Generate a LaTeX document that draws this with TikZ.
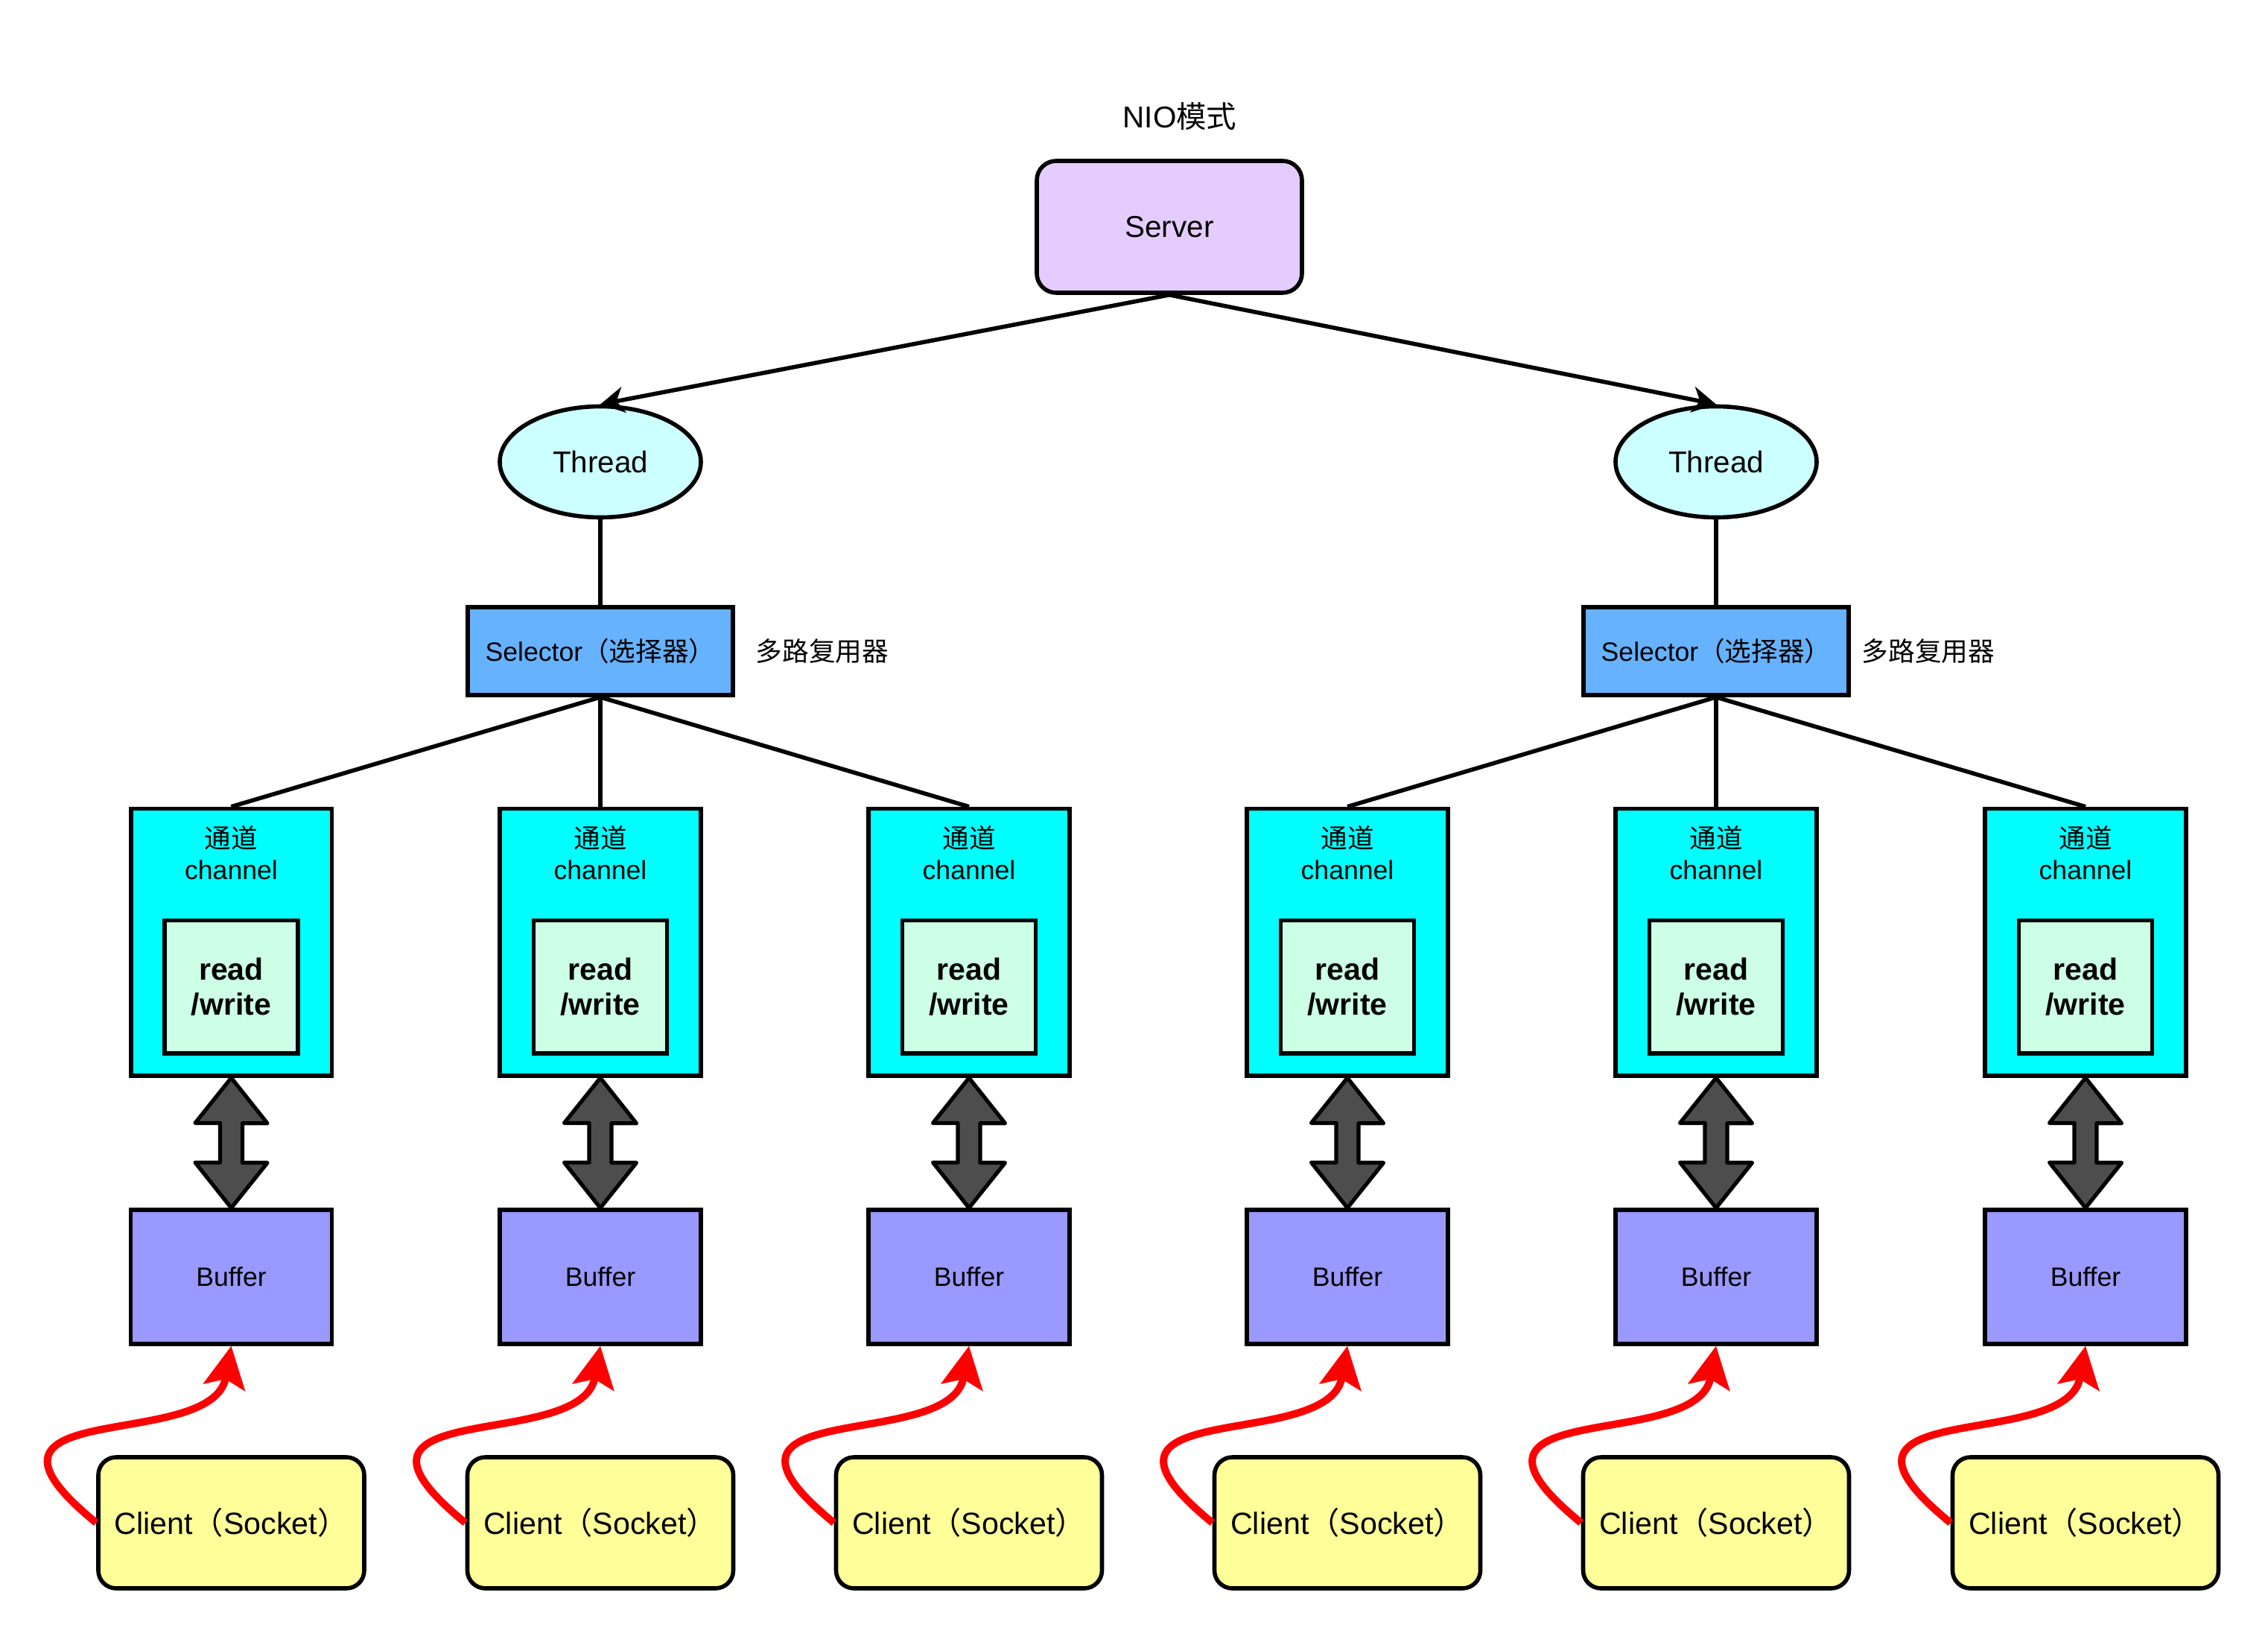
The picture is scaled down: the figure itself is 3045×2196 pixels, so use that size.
\documentclass[tikz,border=0pt]{standalone}
\usepackage{fontspec}
\setmainfont{Liberation Sans}
\newfontfamily\cjk{Noto Sans CJK SC}
\usetikzlibrary{arrows.meta, shapes.geometric}

\definecolor{serverfill}{HTML}{E5CCFF}
\definecolor{threadfill}{HTML}{CCFFFF}
\definecolor{selectorfill}{HTML}{66B2FF}
\definecolor{channelfill}{HTML}{00FFFF}
\definecolor{rwfill}{HTML}{CCFFE6}
\definecolor{bufferfill}{HTML}{9999FF}
\definecolor{clientfill}{HTML}{FFFF99}
\definecolor{rwarrowfill}{HTML}{4D4D4D}

\newcommand{\nioBig}{\fontsize{10.1pt}{12pt}\selectfont}
\newcommand{\nioSmall}{\fontsize{8.9pt}{10.5pt}\selectfont}
\newcommand{\nioClient}{\fontsize{10.3pt}{12pt}\selectfont}
\newcommand{\nioBold}{\fontsize{10.25pt}{11.8pt}\selectfont\bfseries}

\tikzset{
	box/.style={draw=black, line width=1.4pt, inner sep=0pt},
	title/.style={inner sep=0pt, anchor=base, font=\nioBig},
	server/.style={box, rounded corners=6.5pt, fill=serverfill, minimum width=89pt, minimum height=44.25pt, font=\nioBig},
	thread/.style={box, ellipse, fill=threadfill, minimum width=67.5pt, minimum height=37.25pt, font=\nioBig},
	selector/.style={box, fill=selectorfill, minimum width=89pt, minimum height=29.5pt, font=\nioSmall},
	note/.style={inner sep=0pt, anchor=west, font=\nioSmall},
	channel/.style={box, fill=channelfill, minimum width=67.4pt, minimum height=89.6pt},
	chlabel/.style={inner sep=0pt, anchor=north, align=center, font=\nioSmall},
	rw/.style={box, fill=rwfill, minimum width=44.75pt, minimum height=44.6pt, align=center, font=\nioBold},
	buffer/.style={box, fill=bufferfill, minimum width=67.5pt, minimum height=44.9pt, font=\nioSmall},
	client/.style={box, rounded corners=6pt, fill=clientfill, minimum width=89.25pt, minimum height=44pt, font=\nioClient},
	link/.style={draw=black, line width=1.4pt},
	tohead/.style={link, -{Stealth[length=8pt, width=8.75pt, inset=2.5pt]}},
	rwarrow/.style={draw=black, line width=1.3pt, line join=round, fill=rwarrowfill},
	socket/.style={draw=red, line width=2.5pt, -{Stealth[length=14pt, width=14pt, inset=2.7pt]}}
}

% double arrow between a channel and its buffer
\newcommand{\rwarrow}[2]{\draw [rwarrow] (#1.south) -- ++(48.5,61) -- ++(-33.5,0) -- ++(0,53) -- ++(33.5,0) -- (#2.north) -- ++(-48.5,-61) -- ++(33.5,0) -- ++(0,-53) -- ++(-33.5,0) -- cycle;}

\begin{document}
\begin{tikzpicture}[x=0.25pt, y=-0.25pt]
		\useasboundingbox (0, 0) rectangle (3045, 2196);
		\node [title] (0) at (1584, 171) {NIO{\cjk 模式}};
		\node [server] (1) at (1570, 304.5) {Server};
		\node [thread] (2) at (806, 620) {Thread};
		\node [thread] (3) at (2304, 620) {Thread};
		\node [selector] (4) at (806, 874) {Selector{\cjk （选择器）}};
		\node [selector] (5) at (2304, 874) {Selector{\cjk （选择器）}};
		\node [note] (6) at (1014, 874) {{\cjk 多路复用器}};
		\node [note] (7) at (2499, 874) {{\cjk 多路复用器}};

		\node [channel] (8) at (310.5, 1264.8) {};
		\node [channel] (9) at (806, 1264.8) {};
		\node [channel] (10) at (1301, 1264.8) {};
		\node [channel] (11) at (1809, 1264.8) {};
		\node [channel] (12) at (2304, 1264.8) {};
		\node [channel] (13) at (2800, 1264.8) {};

		\node [chlabel] (14) at (310.5, 1108) {{\cjk 通道}\\channel};
		\node [chlabel] (15) at (806, 1108) {{\cjk 通道}\\channel};
		\node [chlabel] (16) at (1301, 1108) {{\cjk 通道}\\channel};
		\node [chlabel] (17) at (1809, 1108) {{\cjk 通道}\\channel};
		\node [chlabel] (18) at (2304, 1108) {{\cjk 通道}\\channel};
		\node [chlabel] (19) at (2800, 1108) {{\cjk 通道}\\channel};

		\node [rw] (20) at (310.5, 1324.8) {read\\/write};
		\node [rw] (21) at (806, 1324.8) {read\\/write};
		\node [rw] (22) at (1301, 1324.8) {read\\/write};
		\node [rw] (23) at (1809, 1324.8) {read\\/write};
		\node [rw] (24) at (2304, 1324.8) {read\\/write};
		\node [rw] (25) at (2800, 1324.8) {read\\/write};

		\node [buffer] (26) at (310.5, 1714) {Buffer};
		\node [buffer] (27) at (806, 1714) {Buffer};
		\node [buffer] (28) at (1301, 1714) {Buffer};
		\node [buffer] (29) at (1809, 1714) {Buffer};
		\node [buffer] (30) at (2304, 1714) {Buffer};
		\node [buffer] (31) at (2800, 1714) {Buffer};

		\node [client] (32) at (310.5, 2044) {Client{\cjk （}Socket{\cjk ）}};
		\node [client] (33) at (806, 2044) {Client{\cjk （}Socket{\cjk ）}};
		\node [client] (34) at (1301, 2044) {Client{\cjk （}Socket{\cjk ）}};
		\node [client] (35) at (1809, 2044) {Client{\cjk （}Socket{\cjk ）}};
		\node [client] (36) at (2304, 2044) {Client{\cjk （}Socket{\cjk ）}};
		\node [client] (37) at (2800, 2044) {Client{\cjk （}Socket{\cjk ）}};

		\draw [tohead] (1.south) to (2.north);
		\draw [tohead] (1.south) to (3.north);
		\draw [link] (2.south) to (4.north);
		\draw [link] (3.south) to (5.north);
		\draw [link] (4.south) to (8.north);
		\draw [link] (4.south) to (9.north);
		\draw [link] (4.south) to (10.north);
		\draw [link] (5.south) to (11.north);
		\draw [link] (5.south) to (12.north);
		\draw [link] (5.south) to (13.north);

		\rwarrow{8}{26}
		\rwarrow{9}{27}
		\rwarrow{10}{28}
		\rwarrow{11}{29}
		\rwarrow{12}{30}
		\rwarrow{13}{31}

		\draw [socket] (32.west) .. controls +(-212, -173) and +(-25, 145) .. (26.south);
		\draw [socket] (33.west) .. controls +(-212, -173) and +(-25, 145) .. (27.south);
		\draw [socket] (34.west) .. controls +(-212, -173) and +(-25, 145) .. (28.south);
		\draw [socket] (35.west) .. controls +(-212, -173) and +(-25, 145) .. (29.south);
		\draw [socket] (36.west) .. controls +(-212, -173) and +(-25, 145) .. (30.south);
		\draw [socket] (37.west) .. controls +(-212, -173) and +(-25, 145) .. (31.south);
\end{tikzpicture}
\end{document}
